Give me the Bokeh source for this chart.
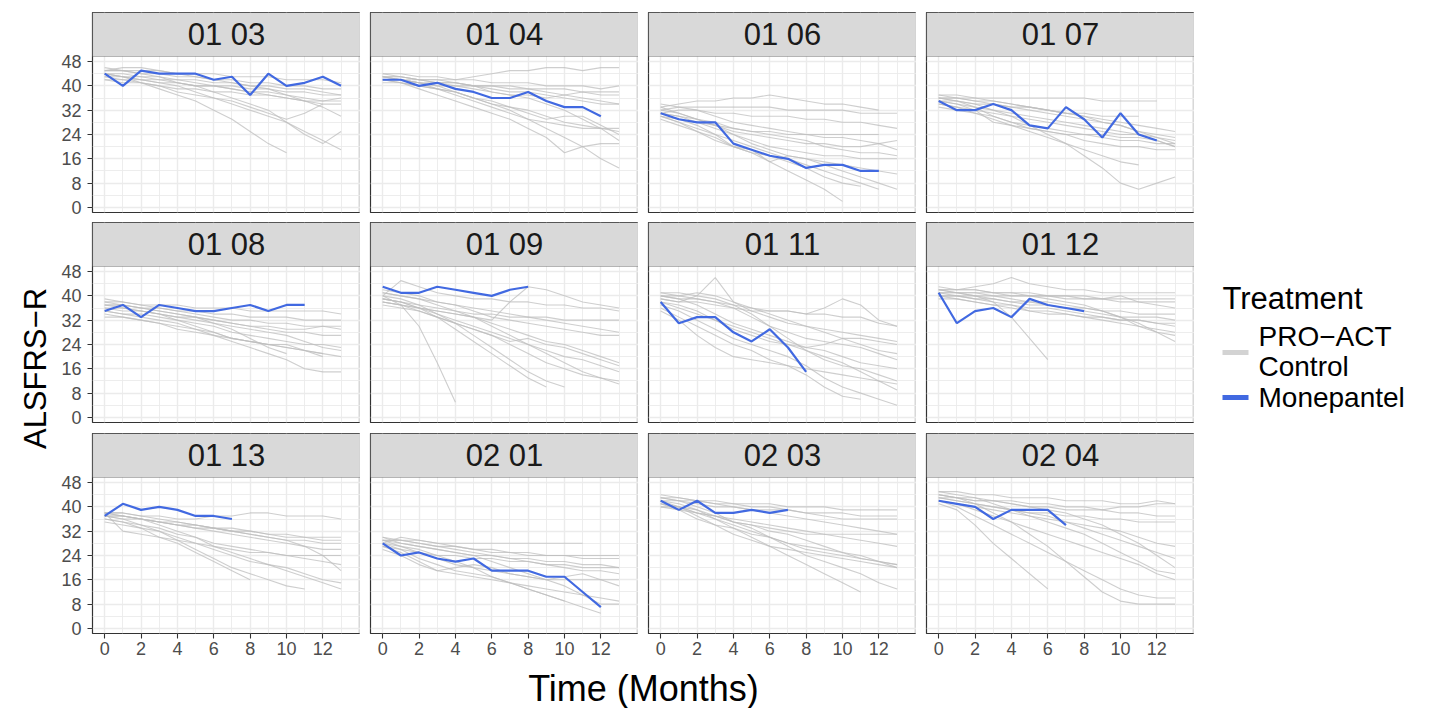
import math
from bokeh.plotting import figure
from bokeh.layouts import row, column
from bokeh.models import Range1d, FixedTicker, BoxAnnotation, Label
from bokeh.core.properties import value
from bokeh.embed import file_html
from bokeh.resources import INLINE

# ---------------- data ----------------
panel_names = ["01 03", "01 04", "01 06", "01 07",
               "01 08", "01 09", "01 11", "01 12",
               "01 13", "02 01", "02 03", "02 04"]

x_ticks = [0, 2, 4, 6, 8, 10, 12]
x_minor = [1, 3, 5, 7, 9, 11, 13, 14]
y_ticks = [0, 8, 16, 24, 32, 40, 48]
y_minor = [4, 12, 20, 28, 36, 44]

# Monepantel (blue) ALSFRS-R by month
mone_0103 = [44, 40, 45, 44, 44, 44, 42, 43, 37, 44, 40, 41, 43, 40]
mone_0104 = [42, 42, 40, 41, 39, 38, 36, 36, 38, 35, 33, 33, 30]
mone_0106 = [31, 29, 28, 28, 21, 19, 17, 16, 13, 14, 14, 12, 12]
mone_0107 = [35, 32, 32, 34, 32, 27, 26, 33, 29, 23, 31, 24, 22]
mone_0108 = [35, 37, 33, 37, 36, 35, 35, 36, 37, 35, 37, 37]
mone_0109 = [43, 41, 41, 43, 42, 41, 40, 42, 43]
mone_0111 = [38, 31, 33, 33, 28, 25, 29, 23, 15]
mone_0112 = [41, 31, 35, 36, 33, 39, 37, 36, 35]
mone_0113 = [37, 41, 39, 40, 39, 37, 37, 36]
mone_0201 = [28, 24, 25, 23, 22, 23, 19, 19, 19, 17, 17, 12, 7]
mone_0203 = [42, 39, 42, 38, 38, 39, 38, 39]
mone_0204 = [42, 41, 40, 36, 39, 39, 39, 34]

# PRO-ACT control (grey) ALSFRS-R by month
ctrl_0103 = [
    [45, 45, 44, 44, 43, 43, 42, 42, 41, 41, 40, 40, 39, 39],
    [44, 43, 43, 42, 42, 41, 40, 40, 39, 39, 38, 38, 37, 37],
    [46, 45, 45, 45, 44, 44, 44, 43, 43, 43, 42, 42, 42, 41],
    [44, 43, 42, 41, 40, 38, 36, 34, 32, 30, 28, 25, 22, 19],
    [44, 43, 41, 39, 37, 35, 32, 29, 25, 21, 18],
    [42, 42, 41, 40, 38, 37, 36, 35, 33, 31, 29, 31, 34],
    [45, 45, 44, 43, 41, 40, 38, 36, 34, 32, 28, 24, 21, 25],
    [43, 42, 42, 41, 41, 40, 40, 39, 38, 38, 37, 36, 35, 35],
    [44, 44, 43, 43, 42, 42, 41, 41, 40, 40, 39, 39, 38, 37],
    [42, 41, 41, 40, 39, 39, 38, 38, 37, 37, 36, 35, 34, 34],
    [45, 46, 46, 45, 44, 43, 42, 41, 40, 39, 37, 35, 33, 30],
    [43, 43, 42, 42, 41, 40, 40, 39, 38, 37, 36, 35, 35, 36],
]
ctrl_0104 = [
    [43, 43, 42, 42, 42, 43, 44, 45, 45, 46, 46, 45, 46, 46],
    [42, 42, 41, 40, 40, 39, 38, 37, 36, 34, 32, 29, 26, 22],
    [43, 42, 41, 39, 38, 36, 34, 32, 29, 26, 23, 20, 16, 13],
    [44, 43, 42, 41, 41, 40, 40, 40, 39, 39, 39, 38, 38, 38],
    [42, 41, 40, 39, 38, 36, 35, 33, 31, 29, 30, 30, 27, 24],
    [43, 42, 41, 40, 38, 36, 34, 33, 32, 30, 28, 27, 26, 26],
    [42, 41, 39, 37, 35, 33, 31, 29, 26, 23, 18, 20, 21, 21],
    [44, 44, 43, 43, 42, 42, 41, 41, 41, 40, 40, 40, 39, 40],
    [43, 42, 42, 41, 41, 40, 40, 39, 39, 38, 37, 36, 35, 34],
    [42, 42, 41, 41, 40, 40, 38, 37, 37, 36, 37, 38, 37, 37],
    [43, 43, 42, 42, 41, 40, 39, 38, 38, 37, 36, 35, 34, 34],
    [41, 41, 40, 39, 37, 35, 33, 31, 29, 28, 27, 26, 26, 25],
]
ctrl_0106 = [
    [33, 34, 35, 35, 36, 36, 37, 36, 35, 34, 34, 33, 32],
    [32, 33, 33, 33, 33, 33, 33, 32, 32, 32, 32, 31, 31, 31],
    [31, 32, 32, 31, 31, 30, 30, 30, 29, 29, 28, 28, 27, 26],
    [30, 29, 28, 27, 26, 25, 25, 24, 24, 24, 24, 24, 24],
    [32, 31, 29, 27, 25, 24, 23, 22, 21, 21, 20, 20, 21, 22],
    [31, 30, 28, 26, 24, 22, 20, 19, 18, 17, 17, 16, 16, 16],
    [33, 31, 29, 27, 24, 21, 19, 17, 16, 15, 14, 13, 12, 11],
    [30, 28, 26, 24, 22, 20, 18, 16, 14, 12, 10, 8, 6],
    [31, 29, 27, 24, 20, 18, 15, 12, 9, 6, 2],
    [29, 27, 25, 23, 20, 18, 17, 15, 13, 10, 8, 7],
    [34, 33, 32, 30, 28, 27, 26, 25, 24, 23, 23, 22, 21, 19],
    [31, 30, 29, 28, 26, 25, 24, 23, 22, 20, 19, 18, 18, 17],
    [30, 28, 25, 22, 20, 19, 15, 17, 16, 14, 12, 10, 8, 6],
]
ctrl_0107 = [
    [36, 36, 36, 36, 36, 36, 36, 36, 36, 35, 35, 35, 35],
    [35, 35, 34, 34, 33, 33, 32, 31, 31, 30, 30, 30],
    [37, 36, 35, 34, 33, 32, 31, 30, 29, 28, 27, 25, 23, 21],
    [34, 33, 31, 29, 27, 25, 23, 21, 19, 17, 15, 14],
    [36, 35, 34, 32, 30, 27, 24, 21, 17, 13, 8, 6, 8, 10],
    [35, 34, 33, 32, 31, 30, 29, 28, 27, 26, 25, 24, 22, 20],
    [37, 37, 36, 35, 34, 33, 32, 31, 30, 28, 27, 25, 24, 23],
    [33, 32, 31, 30, 28, 26, 25, 24, 24, 23, 22, 22, 21, 21],
    [36, 35, 33, 30, 28, 27, 26, 25, 24, 24, 23, 23, 22, 20],
    [34, 33, 32, 31, 30, 29, 28, 27, 26, 25, 24, 24, 23, 22],
    [36, 36, 35, 35, 34, 33, 32, 31, 30, 29, 28, 27, 26, 25],
    [35, 34, 32, 28, 27, 26, 25, 24, 22, 21, 20, 20, 19, 19],
]
ctrl_0108 = [
    [38, 38, 37, 37, 37, 36, 36, 36, 35, 35, 35, 35, 35, 34],
    [37, 37, 36, 36, 35, 35, 34, 34, 33, 33, 33, 32, 32, 32],
    [36, 35, 35, 34, 33, 32, 31, 30, 29, 28, 27, 25, 23, 22],
    [35, 34, 33, 32, 31, 29, 27, 25, 23, 21, 19, 16, 15, 15],
    [38, 37, 36, 35, 34, 33, 31, 29, 26, 23, 21],
    [34, 33, 32, 31, 29, 28, 27, 26, 25, 24, 23, 22, 21, 20],
    [37, 37, 36, 35, 34, 33, 32, 31, 30, 29, 28, 28, 27, 27],
    [36, 36, 35, 34, 33, 33, 32, 31, 30, 30, 29, 29, 30, 30],
    [35, 34, 34, 33, 32, 30, 28, 26, 25, 24, 24, 22, 20],
    [39, 38, 37, 36, 35, 34, 33, 32, 32, 31, 31, 30, 30, 29],
    [33, 33, 32, 31, 30, 29, 28, 26, 25, 24, 23, 22, 21],
    [37, 36, 35, 34, 32, 31, 30, 28, 27, 26, 25, 24, 24, 23],
]
ctrl_0109 = [
    [40, 45, 43, 41, 40, 39, 39, 38, 38, 37, 37, 36, 36, 35],
    [39, 38, 37, 36, 35, 34, 34, 33, 33, 33, 32, 32, 32, 32],
    [40, 37, 30, 18, 5],
    [41, 40, 39, 37, 35, 33, 30, 27, 24, 21, 18, 15, 13, 11],
    [37, 36, 35, 33, 31, 29, 27, 24, 21, 18, 16, 14, 13, 12],
    [40, 39, 37, 34, 31, 27, 23, 19, 15, 12, 10],
    [38, 37, 36, 35, 34, 33, 31, 29, 27, 25, 24, 22, 20, 18],
    [42, 41, 40, 38, 37, 35, 33, 32, 31, 30, 29, 28, 27, 27],
    [39, 38, 36, 34, 32, 30, 28, 26, 24, 22, 20, 19, 17, 15],
    [38, 37, 36, 35, 34, 33, 32, 38, 43, 42, 40, 38, 37, 36],
    [39, 38, 36, 33, 29, 25, 21, 17, 13, 10],
    [41, 40, 39, 38, 37, 36, 35, 34, 33, 32, 31, 30, 29, 28],
    [38, 37, 35, 33, 31, 29, 27, 25, 26, 24, 23, 21, 19, 17],
]
ctrl_0111 = [
    [40, 40, 41, 40, 38, 36, 34, 32, 30, 28, 26, 24, 22, 21],
    [39, 38, 40, 46, 38, 35, 33, 31, 30, 29, 28, 27, 26, 25],
    [41, 40, 39, 38, 37, 36, 35, 35, 34, 34, 33, 33, 31, 30],
    [38, 36, 34, 32, 30, 28, 26, 24, 22, 20, 18, 15, 12, 9],
    [37, 35, 32, 29, 26, 24, 22, 20, 17, 13, 10, 8, 6, 4],
    [40, 39, 37, 34, 31, 29, 27, 25, 23, 22, 20, 18, 17, 16],
    [36, 33, 30, 27, 24, 22, 19, 17, 14, 10, 7, 6],
    [39, 38, 38, 37, 36, 35, 35, 35, 34, 36, 39, 37, 32, 30],
    [38, 37, 35, 32, 29, 27, 25, 24, 23, 24, 26, 26, 25, 24],
    [41, 41, 40, 39, 37, 34, 30, 26, 22, 19, 17, 16, 14, 12],
    [35, 32, 27, 23, 20, 19, 18, 17, 16, 15, 14, 13, 12, 11],
    [40, 39, 39, 38, 36, 33, 30, 28, 26, 25, 24, 23, 21, 19],
]
ctrl_0112 = [
    [42, 42, 43, 44, 46, 44, 43, 42, 42, 41, 41, 41, 41, 41],
    [41, 41, 41, 40, 40, 40, 40, 39, 39, 39, 38, 38, 38, 38],
    [40, 40, 39, 39, 38, 37, 37, 36, 36, 35, 35, 34, 34, 34],
    [42, 41, 40, 38, 33, 26, 19],
    [41, 41, 40, 40, 39, 38, 38, 37, 36, 35, 33, 31, 28, 25],
    [43, 42, 42, 41, 41, 40, 40, 40, 39, 39, 40, 38, 37, 36],
    [40, 39, 38, 37, 36, 35, 35, 34, 33, 33, 32, 32, 31, 31],
    [42, 41, 41, 41, 40, 40, 39, 38, 37, 35, 33, 30, 28, 27],
    [41, 40, 40, 39, 38, 38, 37, 36, 35, 34, 33, 33, 33, 32],
    [39, 39, 38, 37, 37, 36, 36, 35, 34, 33, 32, 32, 31, 30],
    [42, 42, 42, 41, 41, 41, 40, 40, 40, 39, 39, 39, 39, 39],
    [40, 40, 39, 38, 37, 35, 34, 34, 33, 32, 31, 30, 29, 28],
]
ctrl_0113 = [
    [38, 38, 37, 37, 36, 36, 37, 37, 38, 38, 37, 37, 37, 36],
    [37, 37, 36, 35, 34, 33, 33, 32, 31, 30, 29, 29, 28, 28],
    [38, 37, 36, 34, 32, 30, 27, 25, 23, 21, 19, 17, 15, 13],
    [36, 35, 33, 30, 28, 25, 22, 19, 16],
    [37, 36, 34, 32, 29, 26, 23, 20, 18, 16, 14, 13],
    [38, 37, 36, 35, 34, 33, 32, 31, 30, 29, 28, 27, 26, 26],
    [36, 35, 34, 33, 31, 30, 28, 27, 26, 25, 24, 23, 22, 21],
    [37, 37, 36, 35, 35, 34, 33, 33, 32, 31, 30, 30, 29, 29],
    [38, 38, 37, 36, 35, 34, 33, 32, 31, 30, 29, 27, 24, 19],
    [35, 34, 33, 32, 30, 28, 26, 24, 22, 21, 20, 18, 16, 15],
    [37, 36, 36, 35, 34, 34, 33, 32, 32, 31, 31, 30, 30, 30],
    [38, 32, 31, 30, 29, 28, 27, 26, 25, 25, 24, 24, 24, 24],
]
ctrl_0201 = [
    [29, 29, 29, 28, 28, 28, 28, 28, 28, 28, 28, 28],
    [28, 30, 29, 28, 27, 26, 25, 25, 24, 24, 24, 24, 24, 24],
    [27, 26, 25, 24, 24, 23, 23, 22, 22, 21, 21, 20, 20, 20],
    [29, 27, 25, 23, 21, 20, 19, 18, 17, 16, 16, 16, 16, 16],
    [28, 26, 23, 21, 19, 18, 17, 15, 14, 13, 12, 11, 10, 9],
    [30, 28, 27, 26, 25, 24, 22, 20, 18, 16, 14, 11, 8, 8],
    [27, 25, 22, 19, 18, 17, 16, 15, 13, 11, 9, 7, 5],
    [29, 28, 27, 26, 25, 24, 24, 23, 23, 22, 22, 21, 21, 20],
    [28, 27, 26, 24, 22, 20, 17, 15, 13, 11, 9],
    [30, 29, 28, 27, 26, 25, 24, 23, 22, 21, 20, 19, 19, 18],
    [26, 24, 21, 19, 20, 21, 20, 18, 17, 16, 17, 18, 16, 14],
    [29, 29, 28, 27, 27, 26, 26, 25, 25, 24, 24, 23, 23, 23],
]
ctrl_0203 = [
    [43, 43, 42, 42, 41, 41, 41, 40, 40, 40, 39, 39, 39, 39],
    [42, 42, 41, 40, 40, 39, 39, 39, 38, 38, 38, 37, 37, 37],
    [41, 40, 38, 36, 34, 32, 30, 28, 26, 25, 24, 23, 22, 21],
    [43, 42, 40, 38, 35, 33, 30, 27, 24, 22, 20, 18, 15, 13],
    [41, 40, 39, 37, 35, 34, 33, 32, 31, 31, 31, 31, 31, 31],
    [42, 41, 39, 36, 33, 30, 27, 24, 21, 18, 15, 12],
    [40, 39, 38, 37, 36, 35, 34, 33, 32, 31, 30, 29, 28, 27],
    [43, 42, 42, 41, 41, 40, 40, 39, 38, 37, 36, 36, 36, 36],
    [42, 40, 37, 34, 31, 29, 27, 26, 25, 24, 23, 22, 21, 20],
    [41, 39, 36, 34, 33, 31, 30, 28, 27, 26, 25, 23, 22, 21],
    [44, 43, 42, 41, 40, 39, 38, 37, 36, 35, 34, 33, 32, 31],
    [40, 40, 38, 37, 35, 34, 32, 31, 29, 27, 25, 24, 22, 20],
]
ctrl_0204 = [
    [45, 45, 44, 44, 43, 43, 43, 42, 42, 42, 41, 41, 42, 41],
    [44, 43, 43, 42, 42, 41, 41, 40, 40, 39, 38, 38, 37, 37],
    [43, 42, 41, 40, 39, 38, 37, 35, 33, 31, 29, 27, 25, 23],
    [42, 40, 37, 34, 31, 28, 25, 22, 19, 16, 13, 11, 10, 10],
    [44, 43, 41, 38, 35, 31, 27, 22, 17, 12, 9, 8, 8, 8],
    [41, 39, 34, 28, 23, 18, 13],
    [43, 43, 42, 42, 41, 40, 39, 38, 36, 34, 31, 28, 24, 20],
    [42, 41, 40, 39, 38, 37, 36, 35, 34, 33, 32, 30, 28, 27],
    [45, 44, 43, 41, 39, 37, 35, 33, 31, 28, 25, 22, 19, 18],
    [43, 42, 41, 40, 39, 38, 38, 37, 37, 36, 36, 35, 35, 35],
    [42, 41, 39, 37, 35, 33, 31, 29, 27, 25, 23, 21, 18, 16],
    [44, 43, 42, 42, 41, 40, 40, 39, 39, 39, 40, 40, 41, 41],
]

mone_series = [mone_0103, mone_0104, mone_0106, mone_0107,
               mone_0108, mone_0109, mone_0111, mone_0112,
               mone_0113, mone_0201, mone_0203, mone_0204]
ctrl_series = [ctrl_0103, ctrl_0104, ctrl_0106, ctrl_0107,
               ctrl_0108, ctrl_0109, ctrl_0111, ctrl_0112,
               ctrl_0113, ctrl_0201, ctrl_0203, ctrl_0204]

legend_title = "Treatment"
legend_labels = ["PRO\u2212ACT", "Control", "Monepantel"]
x_title = "Time (Months)"
y_title = "ALSFRS\u2212R"

# ---------------- style / layout ----------------
FONT = "Liberation Sans"
FW, FH = 268, 156          # panel data-area size (px)
SH = 44                    # strip height (px)
LEFT0, GAP = 34, 10
TOPS = [12, 0, 0]
BOTTOMS = [10, 11, 29]
BLUE = "#4169E1"
GREY = "#BEBEBE"
BORDER = "#333333"
GRIDC = "#EBEBEB"
X_RANGE = (-0.67, 14.07)
Y_RANGE = (-1.66, 49.65)
PX_PER_Y = FH / (Y_RANGE[1] - Y_RANGE[0])
Y_STRIP_TOP = Y_RANGE[1] + SH / PX_PER_Y
YL_W = 58


def base_fig(**kw):
    p = figure(output_backend="svg", toolbar_location=None, **kw)
    p.background_fill_color = "white"
    p.border_fill_color = "white"
    return p


def make_panel(name, mone, ctrl, col, r):
    left = LEFT0 if col == 0 else GAP
    top, bottom = TOPS[r], BOTTOMS[r]
    p = base_fig(width=left + FW, height=top + SH + FH + bottom,
                 x_range=Range1d(*X_RANGE), y_range=Range1d(Y_RANGE[0], Y_STRIP_TOP),
                 x_axis_location="below" if r == 2 else None,
                 y_axis_location="left" if col == 0 else None,
                 min_border_left=left, min_border_right=0,
                 min_border_top=top, min_border_bottom=bottom)
    p.outline_line_color = BORDER
    p.outline_line_width = 1.2
    p.xgrid.ticker = FixedTicker(ticks=x_ticks, minor_ticks=x_minor)
    p.ygrid.ticker = FixedTicker(ticks=y_ticks, minor_ticks=y_minor)
    for g in (p.xgrid, p.ygrid):
        g.grid_line_color = GRIDC
        g.grid_line_width = 1.4
        g.minor_grid_line_color = GRIDC
        g.minor_grid_line_width = 0.9
    for ax in p.xaxis + p.yaxis:
        ax.axis_line_color = None
        ax.major_tick_line_color = BORDER
        ax.major_tick_line_width = 1.1
        ax.major_tick_in = 0
        ax.major_tick_out = 5
        ax.minor_tick_line_color = None
        ax.major_label_text_font = FONT
        ax.major_label_text_font_size = "18px"
        ax.major_label_text_color = "#4D4D4D"
    if r == 2:
        p.xaxis.ticker = FixedTicker(ticks=x_ticks, minor_ticks=[])
        p.xaxis.major_label_standoff = 3
    if col == 0:
        p.yaxis.ticker = FixedTicker(ticks=y_ticks, minor_ticks=[])
        p.yaxis.major_label_standoff = 6

    xs = [list(range(len(v))) for v in ctrl]
    p.multi_line(xs=xs, ys=ctrl, line_color=GREY, line_alpha=0.75, line_width=1.1)
    p.line(x=list(range(len(mone))), y=mone, line_color=BLUE, line_width=2.2)

    # facet strip
    p.add_layout(BoxAnnotation(left=X_RANGE[0], right=X_RANGE[1],
                               bottom=Y_RANGE[1], top=Y_STRIP_TOP,
                               fill_color="#D9D9D9", fill_alpha=1.0,
                               line_color=BORDER, line_width=1.2))
    p.add_layout(Label(x=(X_RANGE[0] + X_RANGE[1]) / 2,
                       y=(Y_RANGE[1] + Y_STRIP_TOP) / 2,
                       text=name, text_align="center", text_baseline="middle",
                       text_font=FONT, text_font_size="31px", text_color="#1A1A1A"))
    return p


rows = []
for r in range(3):
    cells = []
    for c in range(4):
        i = r * 4 + c
        cells.append(make_panel(panel_names[i], mone_series[i], ctrl_series[i], c, r))
    rows.append(row(*cells))
grid = column(*rows)

GRID_H = sum(TOPS) + sum(BOTTOMS) + 3 * (SH + FH)
GRID_W = LEFT0 + FW + 3 * (GAP + FW)

# y axis title (pixel coordinates, y downward)
yl = base_fig(width=YL_W, height=GRID_H, x_range=Range1d(0, YL_W), y_range=Range1d(GRID_H, 0),
              x_axis_location=None, y_axis_location=None,
              min_border_left=0, min_border_right=0, min_border_top=0, min_border_bottom=0)
yl.grid.visible = False
yl.outline_line_color = None
yl.text(x=[35], y=[368], text=[y_title], angle=math.pi / 2, text_align="center",
        text_baseline="middle", text_font_size="31px", text_color="black",
        text_font=value(FONT))

# legend panel (pixel coordinates, y downward)
LG_W = 230
lg = base_fig(width=LG_W, height=GRID_H, x_range=Range1d(0, LG_W), y_range=Range1d(GRID_H, 0),
              x_axis_location=None, y_axis_location=None,
              min_border_left=0, min_border_right=0, min_border_top=0, min_border_bottom=0)
lg.grid.visible = False
lg.outline_line_color = None
lg.text(x=[28], y=[298], text=[legend_title], text_align="left", text_baseline="middle",
        text_font_size="31px", text_color="black", text_font=value(FONT))
lg.segment(x0=[28], y0=[352], x1=[54], y1=[352], line_color="#D3D3D3", line_width=5)
lg.segment(x0=[28], y0=[397], x1=[54], y1=[397], line_color=BLUE, line_width=5)
lg.text(x=[64, 64, 64], y=[336, 366, 397], text=legend_labels, text_align="left",
        text_baseline="middle", text_font_size="28px", text_color="black",
        text_font=value(FONT))

# x axis title (pixel coordinates vertically, y downward)
XL_H = 46
xl = base_fig(width=YL_W + GRID_W, height=XL_H, x_range=Range1d(0, 1), y_range=Range1d(XL_H, 0),
              x_axis_location=None, y_axis_location=None,
              min_border_left=YL_W + LEFT0, min_border_right=0,
              min_border_top=0, min_border_bottom=0)
xl.grid.visible = False
xl.outline_line_color = None
xl.text(x=[0.5], y=[26], text=[x_title], text_align="center", text_baseline="middle",
        text_font_size="36px", text_color="black", text_font=value(FONT))

page = column(row(yl, grid, lg), xl)

open("out.html", "w").write(file_html(page, INLINE))
